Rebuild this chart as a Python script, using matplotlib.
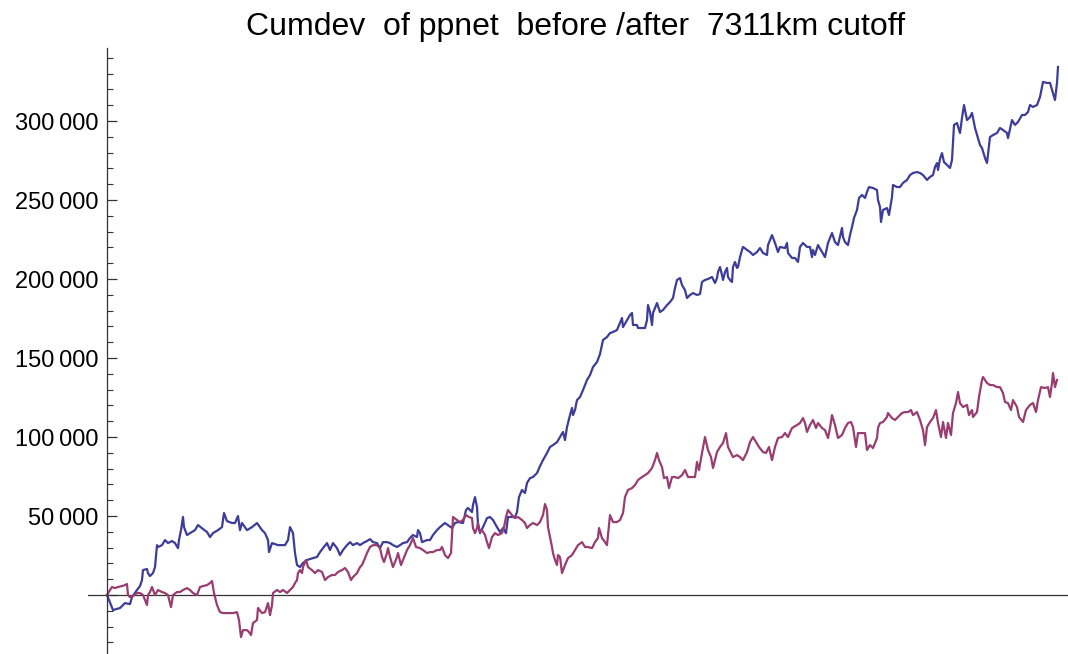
import matplotlib
matplotlib.use("Agg")
import matplotlib.pyplot as plt
from matplotlib.ticker import MultipleLocator, FuncFormatter
import numpy as np

plt.rcParams['font.family'] = ['Liberation Sans', 'DejaVu Sans']

# Cumulative deviation of ppnet, samples before the 7311 km cutoff (values in thousands)
before_t = [0, 6, 13, 18, 23, 25, 30, 33, 35, 36, 40, 41, 43, 46, 48, 50, 51, 55, 58, 61,
            65, 68, 71, 72, 74, 76, 77, 80, 85, 88, 91, 96, 100, 103, 106, 111, 115, 117, 120, 125,
            128, 131, 133, 135, 140, 145, 150, 155, 158, 161, 162, 165, 171, 178, 181, 183, 186, 188, 190, 193,
            196, 200, 203, 206, 210, 213, 216, 220, 223, 226, 230, 233, 236, 240, 243, 246, 250, 253, 256, 260,
            263, 266, 270, 273, 276, 280, 283, 286, 290, 293, 296, 300, 303, 306, 310, 311, 313, 315, 320, 323,
            326, 330, 333, 338, 345, 348, 351, 356, 359, 361, 365, 366, 368, 370, 371, 373, 376, 380, 383, 386,
            390, 393, 396, 399, 401, 405, 408, 410, 412, 415, 418, 420, 423, 426, 430, 433, 436, 440, 443, 446,
            450, 453, 456, 458, 460, 463, 465, 466, 468, 470, 473, 476, 480, 483, 486, 490, 493, 496, 500, 503,
            506, 510, 513, 515, 516, 520, 523, 525, 526, 530, 531, 535, 538, 540, 541, 543, 545, 546, 550, 553,
            556, 560, 563, 566, 568, 570, 573, 575, 578, 580, 583, 586, 590, 593, 595, 598, 601, 605, 608, 610,
            611, 613, 615, 616, 618, 620, 621, 623, 625, 626, 628, 630, 631, 633, 635, 636, 640, 643, 646, 650,
            653, 656, 660, 661, 665, 668, 671, 673, 678, 680, 681, 685, 688, 691, 693, 696, 700, 703, 705, 706,
            708, 711, 715, 718, 721, 725, 728, 731, 735, 736, 738, 741, 743, 745, 747, 750, 752, 755, 758, 760,
            762, 766, 770, 771, 773, 774, 776, 780, 782, 785, 786, 790, 793, 796, 800, 803, 806, 810, 813, 816,
            820, 823, 826, 828, 830, 831, 833, 835, 837, 840, 843, 845, 847, 850, 853, 855, 857, 860, 863, 865,
            868, 871, 873, 875, 878, 880, 883, 886, 890, 893, 896, 900, 901, 905, 908, 911, 915, 918, 921, 923,
            926, 930, 933, 936, 940, 943, 946, 948, 950, 951]
before_k = [0, -9.5, -8.2, -5.1, -5.7, -1.3, 3.2, 5.7, 9.5, 15.8, 16.5, 13.9, 12.0, 13.9, 17.7, 31.6, 30.4, 31.6, 34.8, 32.9,
            34.2, 32.9, 29.7, 34.8, 41.1, 49.4, 43.0, 38.0, 39.9, 41.1, 44.3, 41.8, 39.9, 36.7, 39.2, 41.1, 43.0, 51.9, 46.8, 45.6,
            45.6, 50.0, 41.1, 45.6, 41.1, 43.0, 45.6, 41.1, 39.2, 34.8, 27.2, 32.9, 31.6, 31.6, 34.8, 43.0, 39.2, 26.6, 19.0, 17.7,
            20.3, 22.2, 22.8, 23.4, 24.1, 27.2, 29.7, 32.9, 28.5, 32.9, 29.7, 25.3, 28.5, 31.6, 33.5, 31.6, 32.9, 31.6, 32.9, 34.2,
            35.4, 33.5, 32.9, 29.7, 33.5, 33.5, 32.9, 31.6, 30.4, 31.6, 32.9, 33.5, 36.1, 38.0, 36.7, 41.1, 39.2, 33.5, 34.8, 34.8,
            38.0, 41.1, 43.0, 45.6, 42.4, 45.6, 46.2, 45.6, 53.8, 55.1, 52.5, 57.0, 62.0, 55.7, 44.3, 39.2, 43.0, 48.7, 49.4, 47.5,
            43.0, 39.9, 42.4, 39.2, 49.4, 49.4, 49.4, 52.5, 62.0, 66.5, 64.6, 70.9, 74.0, 74.7, 77.2, 81.6, 85.4, 89.9, 93.7, 94.9,
            96.8, 100.0, 103.2, 98.1, 106.3, 113.9, 118.4, 113.9, 117.1, 123.4, 125.3, 129.7, 136.1, 139.2, 144.3, 147.5, 152.5, 161.4, 163.3, 165.8,
            166.5, 167.7, 172.2, 175.3, 169.6, 174.0, 177.2, 178.5, 170.9, 170.9, 169.0, 169.0, 169.0, 174.0, 183.5, 179.1, 170.9, 178.5, 184.8, 179.1,
            180.4, 183.5, 185.4, 188.0, 194.3, 199.4, 200.6, 196.2, 193.0, 188.0, 189.9, 191.1, 189.9, 190.5, 198.1, 199.4, 200.0, 201.3, 197.5, 200.6,
            204.4, 207.6, 202.5, 199.4, 204.4, 207.0, 201.3, 199.4, 198.1, 207.6, 210.8, 207.0, 207.6, 213.9, 218.4, 220.3, 218.4, 217.1, 215.2, 217.1,
            219.6, 216.5, 215.2, 221.5, 227.8, 222.8, 217.1, 220.3, 219.6, 222.8, 216.5, 213.3, 213.3, 210.8, 220.3, 222.8, 220.3, 220.3, 213.9, 218.4,
            215.2, 221.5, 217.1, 213.9, 222.8, 229.1, 223.4, 221.5, 232.3, 226.6, 223.4, 221.5, 227.8, 232.9, 238.6, 243.7, 251.3, 253.2, 251.3, 255.1,
            258.2, 257.6, 256.3, 250.0, 245.6, 236.1, 243.7, 244.9, 240.5, 251.9, 259.5, 258.2, 258.2, 260.8, 262.7, 265.8, 267.1, 267.7, 267.1, 265.8,
            262.7, 264.6, 265.8, 270.9, 273.4, 269.0, 275.9, 279.7, 274.0, 272.2, 270.3, 275.3, 297.5, 298.7, 292.4, 301.9, 310.1, 300.6, 302.5, 305.1,
            295.6, 289.2, 284.8, 282.9, 276.6, 273.4, 289.9, 291.1, 292.4, 295.6, 294.3, 292.4, 289.2, 300.6, 297.5, 299.4, 303.8, 303.8, 305.7, 310.1,
            308.9, 310.1, 315.2, 324.7, 324.1, 324.1, 317.7, 313.3, 324.1, 334.2]

# Samples after the cutoff
after_t = [0, 3, 5, 8, 11, 15, 18, 20, 21, 23, 26, 30, 33, 36, 40, 41, 43, 45, 48, 51,
           55, 58, 61, 64, 66, 70, 73, 76, 80, 83, 86, 90, 93, 96, 100, 103, 105, 107, 110, 113,
           116, 121, 126, 130, 132, 134, 136, 140, 142, 144, 146, 150, 151, 155, 158, 161, 163, 165, 166, 170,
           173, 176, 180, 183, 186, 188, 190, 191, 193, 195, 196, 199, 201, 205, 208, 211, 215, 218, 221, 225,
           228, 231, 235, 238, 241, 244, 246, 250, 253, 255, 258, 260, 263, 266, 270, 273, 275, 277, 280, 281,
           283, 286, 290, 291, 294, 296, 300, 303, 306, 309, 313, 316, 320, 323, 326, 330, 333, 335, 338, 341,
           344, 346, 350, 353, 356, 359, 362, 365, 366, 368, 370, 371, 373, 375, 378, 380, 382, 385, 388, 391,
           395, 397, 399, 401, 405, 408, 411, 415, 418, 420, 423, 426, 430, 433, 436, 438, 440, 441, 443, 445,
           446, 448, 450, 451, 453, 455, 458, 461, 465, 468, 471, 475, 478, 481, 485, 488, 491, 492, 495, 498,
           500, 503, 506, 510, 513, 516, 518, 521, 525, 528, 531, 535, 538, 541, 545, 548, 550, 552, 555, 557,
           560, 562, 565, 568, 571, 575, 578, 581, 585, 588, 590, 592, 595, 598, 601, 604, 606, 610, 613, 616,
           619, 621, 624, 626, 630, 633, 636, 640, 643, 646, 649, 652, 656, 659, 662, 665, 668, 671, 675, 678,
           681, 685, 690, 693, 696, 698, 700, 703, 706, 709, 711, 715, 718, 721, 723, 725, 728, 731, 735, 738,
           741, 744, 746, 749, 751, 755, 758, 760, 763, 766, 770, 771, 773, 776, 780, 781, 785, 788, 791, 795,
           798, 801, 804, 806, 810, 813, 816, 818, 820, 823, 826, 829, 831, 834, 836, 839, 841, 844, 846, 849,
           851, 853, 856, 860, 862, 865, 866, 870, 872, 875, 876, 880, 883, 886, 890, 893, 896, 898, 901, 904,
           906, 910, 912, 916, 919, 923, 926, 929, 931, 934, 938, 941, 943, 945, 946, 948, 950]
after_k = [0, 3.2, 5.1, 4.4, 5.1, 5.7, 6.3, 7.0, 0, -1.3, -0.6, 1.3, 1.3, 0, -6.3, 0, 1.9, 5.1, 0, 3.2,
           1.9, 1.3, 0, -7.6, 0, 1.9, 1.9, 3.2, 4.4, 3.2, 1.3, 0, 5.1, 5.7, 6.3, 7.6, 8.9, 1.3, -6.3, -10.8,
           -11.4, -11.4, -11.4, -10.8, -15.8, -26.6, -22.2, -22.2, -23.4, -25.3, -17.7, -15.8, -8.2, -11.4, -10.8, -5.1, -12.7, -6.3, 1.3, 3.2,
           1.9, 3.2, 1.3, 3.2, 5.1, 7.6, 9.5, 13.9, 15.8, 13.9, 17.7, 22.2, 17.7, 15.8, 13.9, 15.8, 14.6, 9.5, 11.4, 12.7,
           12.7, 14.6, 15.8, 17.1, 14.6, 9.5, 11.4, 13.9, 17.7, 19.0, 23.4, 26.6, 30.4, 31.6, 31.6, 29.7, 24.1, 20.9, 26.6, 29.7,
           24.1, 17.7, 24.1, 26.6, 19.0, 22.2, 28.5, 31.6, 36.1, 30.4, 29.7, 28.5, 26.6, 27.2, 27.2, 28.5, 28.5, 30.4, 25.3, 23.4,
           26.6, 49.4, 47.5, 46.2, 47.5, 50.6, 49.4, 48.7, 42.4, 39.2, 42.4, 45.6, 39.9, 41.1, 38.0, 33.5, 29.7, 36.7, 39.2, 38.0,
           39.2, 43.0, 49.4, 53.8, 50.6, 48.7, 49.4, 47.5, 45.6, 42.4, 44.3, 45.6, 44.3, 46.2, 50.6, 57.6, 53.8, 43.0, 36.7, 30.4,
           26.6, 22.2, 19.0, 25.3, 24.1, 13.9, 19.0, 23.4, 25.3, 28.5, 31.6, 33.5, 30.4, 30.4, 29.7, 33.5, 36.1, 42.4, 36.1, 33.5,
           31.6, 50.6, 46.2, 46.2, 47.5, 51.9, 62.0, 66.5, 67.7, 69.6, 72.8, 74.7, 75.9, 77.2, 80.4, 85.4, 89.9, 85.4, 81.0, 74.0,
           74.7, 67.7, 74.7, 74.7, 74.0, 75.9, 79.1, 74.7, 74.7, 74.7, 84.2, 79.1, 89.9, 100.0, 91.8, 87.3, 80.4, 90.5, 93.7, 96.2,
           102.5, 93.7, 89.9, 87.3, 88.6, 87.3, 85.4, 90.5, 96.8, 100.0, 96.8, 93.7, 90.5, 89.9, 93.7, 85.4, 93.7, 99.4, 100.0, 102.5,
           100.0, 105.7, 107.6, 108.9, 112.0, 108.9, 103.2, 107.6, 110.8, 105.7, 108.9, 105.7, 104.4, 99.4, 105.7, 113.9, 107.6, 99.4, 101.3, 105.7,
           108.9, 109.5, 106.3, 93.7, 102.5, 102.5, 102.5, 91.8, 94.9, 93.0, 99.4, 105.7, 108.9, 109.5, 112.7, 115.2, 112.0, 110.8, 112.7, 115.2,
           115.8, 115.8, 117.1, 113.9, 115.8, 110.8, 104.4, 94.9, 106.3, 109.5, 112.0, 117.1, 108.9, 100.0, 109.5, 99.4, 108.9, 101.3, 115.2, 121.5,
           128.5, 121.5, 119.0, 120.3, 113.9, 117.1, 112.7, 115.8, 125.3, 136.1, 138.0, 134.2, 132.9, 132.9, 131.6, 131.6, 127.8, 122.2, 121.5, 117.1,
           123.4, 119.0, 112.7, 109.5, 117.1, 120.3, 121.5, 115.8, 123.4, 131.6, 131.0, 131.6, 125.3, 134.2, 140.5, 131.6, 136.1]

title_text = "Cumdev  of ppnet  before /after  7311km cutoff"
blue = "#3d3d99"
purple = "#993d71"

fig = plt.figure(figsize=(10.68, 6.54), dpi=100)
ax = fig.add_axes([88 / 1068, 0.0, 980 / 1068, 606 / 654])

ax.plot(before_t, np.array(before_k) * 1000, color=blue, lw=1.6, solid_joinstyle='round')
ax.plot(after_t, np.array(after_k) * 1000, color=purple, lw=1.6, solid_joinstyle='round')

ax.set_xlim(-19, 961)
ax.set_ylim(-37300, 346200)

# Mathematica-style axes crossing at the origin
for s in ('top', 'right', 'bottom'):
    ax.spines[s].set_visible(False)
ax.spines['left'].set_position(('data', 0))
ax.spines['left'].set_color('#333333')
ax.spines['left'].set_linewidth(0.9)
ax.axhline(0, color='#333333', lw=0.9, zorder=1)

ax.xaxis.set_visible(False)
ax.yaxis.set_major_locator(MultipleLocator(50000))
ax.yaxis.set_minor_locator(MultipleLocator(10000))


def fmt(v, pos):
    if abs(v) < 1:
        return ""
    s = f"{int(round(v)):,}"
    return s.replace(",", "\u2009")


ax.yaxis.set_major_formatter(FuncFormatter(fmt))
ax.tick_params(axis='y', which='major', direction='in', length=7, width=0.9,
               color='#333333', labelsize=17, pad=6)
ax.tick_params(axis='y', which='minor', direction='in', length=4, width=0.8,
               color='#333333')

fig.text(576 / 1068, 1 - 27 / 654, title_text, ha='center', va='center', fontsize=23)

fig.savefig("out.png", dpi=100)
